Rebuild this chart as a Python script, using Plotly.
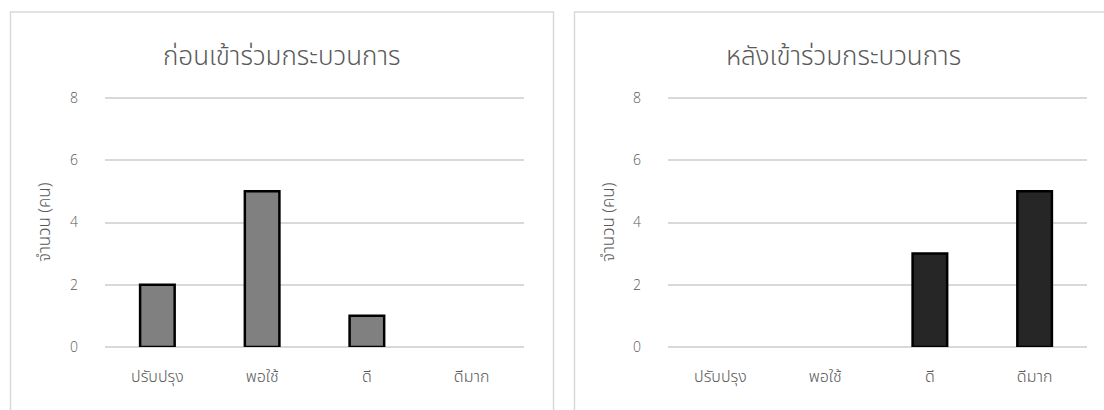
import plotly.graph_objects as go

# Survey results: number of people per rating level
categories = ["ปรับปรุง", "พอใช้", "ดี", "ดีมาก"]
before_counts = [2, 5, 1, 0]
after_counts = [0, 0, 3, 5]
y_ticks = [0, 2, 4, 6, 8]

title_before = "ก่อนเข้าร่วมกระบวนการ"
title_after = "หลังเข้าร่วมกระบวนการ"
y_title = "จำนวน (คน)"

W, H = 1104, 410
FONT = "Noto Sans Thai, Open Sans, sans-serif"
NUM_FONT = "Open Sans, sans-serif"
GRID = "#d9d9d9"
TEXT = "#595959"

def px_x(v):
    return v / W

def px_y(v):
    return 1 - v / H

def outline(vals):
    return [2.5 if v > 0 else 0 for v in vals]

fig = go.Figure()
fig.add_trace(go.Bar(
    x=categories, y=before_counts, width=0.33,
    marker=dict(color="#808080", line=dict(color="#000000", width=outline(before_counts))),
    xaxis="x", yaxis="y", showlegend=False,
))
fig.add_trace(go.Bar(
    x=categories, y=after_counts, width=0.33,
    marker=dict(color="#262626", line=dict(color="#000000", width=outline(after_counts))),
    xaxis="x2", yaxis="y2", showlegend=False,
))

# y range a little above 8 so the top gridline is drawn
y_top = 8.15
y0_px, y8_px = 347, 98
top_px = y0_px - (y0_px - y8_px) * y_top / 8
y_dom = [px_y(y0_px), px_y(top_px)]

xa = dict(showgrid=False, showline=False, zeroline=False, automargin=False,
          tickfont=dict(size=16, color=TEXT, family=FONT, weight=300),
          ticks="", ticklabelstandoff=18, fixedrange=True,
          categoryorder="array", categoryarray=categories)
ya = dict(range=[0, y_top], tickvals=y_ticks, showgrid=True, gridcolor=GRID,
          gridwidth=1.5, zeroline=True, zerolinecolor=GRID, zerolinewidth=1.5,
          showline=False, automargin=False,
          tickfont=dict(size=14, color=TEXT, family=NUM_FONT, weight=300),
          ticks="", ticklabelstandoff=26, domain=y_dom, fixedrange=True)

fig.update_layout(
    width=W, height=H,
    margin=dict(l=0, r=0, t=0, b=0),
    paper_bgcolor="white", plot_bgcolor="white",
    font=dict(family=FONT, color=TEXT),
    xaxis=dict(domain=[px_x(105), px_x(524)], anchor="y", **xa),
    yaxis=dict(anchor="x", **ya),
    xaxis2=dict(domain=[px_x(668), px_x(1087)], anchor="y2", **xa),
    yaxis2=dict(anchor="x2", **ya),
)

# Panel frames
fig.add_shape(type="rect", xref="paper", yref="paper",
              x0=px_x(10.5), x1=px_x(553.5), y0=px_y(430), y1=px_y(12),
              line=dict(color=GRID, width=1.5), fillcolor="rgba(0,0,0,0)", layer="below")
fig.add_shape(type="rect", xref="paper", yref="paper",
              x0=px_x(574.5), x1=px_x(1130), y0=px_y(430), y1=px_y(12),
              line=dict(color=GRID, width=1.5), fillcolor="rgba(0,0,0,0)", layer="below")

# Titles
for cx, txt in [(282, title_before), (843, title_after)]:
    fig.add_annotation(xref="paper", yref="paper", x=px_x(cx), y=px_y(57),
                       text=txt, showarrow=False, xanchor="center", yanchor="middle",
                       font=dict(size=26, color=TEXT, family=FONT, weight=300))

# Y axis titles
for cx in [45, 609]:
    fig.add_annotation(xref="paper", yref="paper", x=px_x(cx), y=px_y(222),
                       text=y_title, showarrow=False, textangle=-90,
                       xanchor="center", yanchor="middle",
                       font=dict(size=17, color=TEXT, family=FONT, weight=300))

fig.write_html("out.html")
